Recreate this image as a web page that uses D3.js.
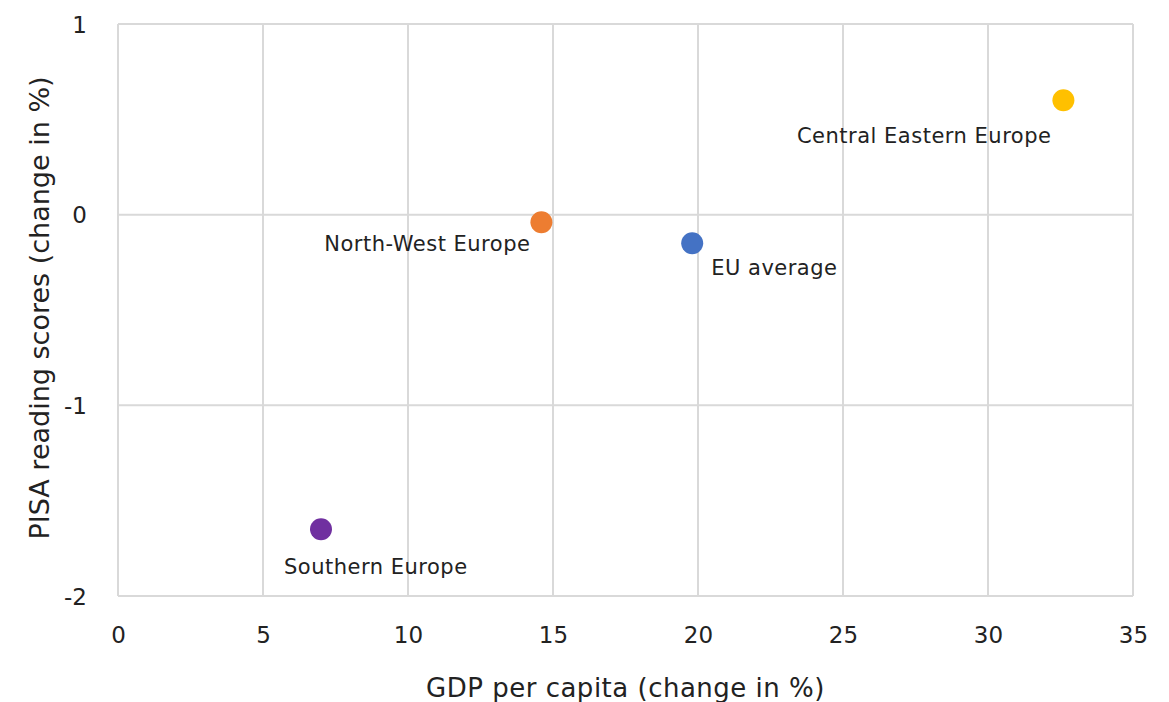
<!DOCTYPE html>
<html>
<head>
<meta charset="utf-8">
<script src="https://cdn.jsdelivr.net/npm/d3@7"></script>
<style>
  body { margin: 0; background: #fff; }
  svg text { fill: #222; }
</style>
</head>
<body>
<div class="chart"></div>
<script>
// regions, gdp change (x) and pisa change (y)
var regions = ["Central Eastern Europe", "North-West Europe", "EU average", "Southern Europe"];
var gdpChange = [32.6, 14.6, 19.8, 7.0];
var pisaChange = [0.6, -0.04, -0.15, -1.65];
var colors = ["#ffc000", "#ed7d31", "#4472c4", "#7030a0"];
// where each label sits relative to its dot
var labelAnchor = ["end", "end", "start", "start"];
var labelDx = [-12, -11, 19, -37];
var labelDy = [43, 29, 32, 45];

var xTicks = [0, 5, 10, 15, 20, 25, 30, 35];
var yTicks = [-2, -1, 0, 1];

var width = 1169, height = 702;
var margin = {left: 118, right: 36, top: 24, bottom: 106};
var font = "DejaVu Sans, sans-serif";

var svg = d3.select(".chart").append("svg")
    .attr("width", width)
    .attr("height", height);

var x = d3.scaleLinear().domain([0, 35]).range([margin.left, width - margin.right]);
var y = d3.scaleLinear().domain([-2, 1]).range([height - margin.bottom, margin.top]);

// gridlines
svg.append("g").selectAll("line")
    .data(xTicks).enter().append("line")
    .attr("x1", function(d) { return x(d); })
    .attr("x2", function(d) { return x(d); })
    .attr("y1", y(1)).attr("y2", y(-2))
    .attr("stroke", "#d9d9d9").attr("stroke-width", 2);

svg.append("g").selectAll("line")
    .data(yTicks).enter().append("line")
    .attr("x1", x(0)).attr("x2", x(35))
    .attr("y1", function(d) { return y(d); })
    .attr("y2", function(d) { return y(d); })
    .attr("stroke", "#d9d9d9").attr("stroke-width", 2);

// axes
var xAxis = svg.append("g")
    .attr("transform", "translate(0," + (y(-2) + 28) + ")")
    .call(d3.axisBottom(x).tickValues(xTicks).tickSize(0));
var yAxis = svg.append("g")
    .attr("transform", "translate(" + (x(0) - 28) + ",0)")
    .call(d3.axisLeft(y).tickValues(yTicks).tickSize(0)
        .tickFormat(function(d) { return String(d); }));

[xAxis, yAxis].forEach(function(a) {
    a.select(".domain").remove();
    a.selectAll("text")
        .attr("font-family", font)
        .attr("font-size", 23)
        .attr("fill", "#222");
});
yAxis.selectAll("text").attr("dy", "0.36em");

// axis titles
svg.append("text")
    .attr("x", (x(0) + x(35)) / 2)
    .attr("y", 697)
    .attr("text-anchor", "middle")
    .attr("font-family", font)
    .attr("font-size", 26)
    .attr("letter-spacing", 0.5)
    .text("GDP per capita (change in %)");

svg.append("text")
    .attr("transform", "translate(49,308) rotate(-90)")
    .attr("text-anchor", "middle")
    .attr("font-family", font)
    .attr("font-size", 27)
    .text("PISA reading scores (change in %)");

// dots + labels
var node = svg.selectAll(".node")
    .data(regions).enter().append("g")
    .attr("class", "node")
    .attr("transform", function(d, i) {
        return "translate(" + x(gdpChange[i]) + "," + y(pisaChange[i]) + ")";
    });

node.append("circle")
    .attr("r", 11)
    .style("fill", function(d, i) { return colors[i]; });

node.append("text")
    .attr("x", function(d, i) { return labelDx[i]; })
    .attr("y", function(d, i) { return labelDy[i]; })
    .attr("text-anchor", function(d, i) { return labelAnchor[i]; })
    .attr("font-family", font)
    .attr("font-size", 21)
    .attr("letter-spacing", 0.5)
    .text(function(d) { return d; });
</script>
</body>
</html>
